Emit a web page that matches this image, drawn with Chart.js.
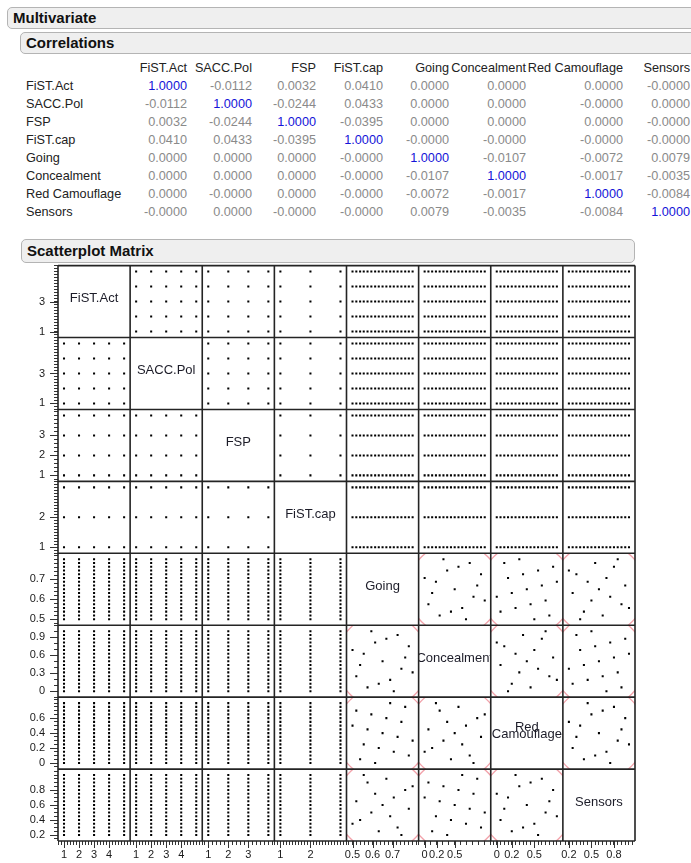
<!DOCTYPE html>
<html><head><meta charset="utf-8">
<script src="https://cdn.jsdelivr.net/npm/chart.js@4.4.1/dist/chart.umd.min.js"></script>
<style>
html,body{margin:0;padding:0;background:#fff;}
body{width:691px;height:863px;overflow:hidden;position:relative;font-family:"Liberation Sans",Arial,sans-serif;}
.bar{position:absolute;background:#efefef;border:1px solid #b4b4b4;border-radius:5px;box-sizing:border-box;font-weight:bold;font-size:15px;color:#111;padding-left:5px;white-space:nowrap;}
.cell{position:absolute;font-size:12.7px;line-height:18px;height:18px;white-space:nowrap;}
#wrap{position:absolute;left:0;top:250px;width:691px;height:613px;}
</style></head><body>
<div class="bar" style="left:7px;top:7px;width:700px;height:22px;line-height:20px;">Multivariate</div>
<div class="bar" style="left:20px;top:32px;width:690px;height:22px;line-height:20px;">Correlations</div>
<div id="tbl"></div>
<div class="bar" style="left:21px;top:239px;width:614px;height:24px;line-height:22px;">Scatterplot Matrix</div>
<div id="wrap"><canvas id="c" width="691" height="613"></canvas></div>
<script>
// ---------------- DATA ----------------
const varNames = ['FiST.Act','SACC.Pol','FSP','FiST.cap','Going','Concealment','Red Camouflage','Sensors'];

const corrRows = [
  ['1.0000','-0.0112','0.0032','0.0410','0.0000','0.0000','0.0000','-0.0000'],
  ['-0.0112','1.0000','-0.0244','0.0433','0.0000','0.0000','-0.0000','0.0000'],
  ['0.0032','-0.0244','1.0000','-0.0395','0.0000','0.0000','0.0000','-0.0000'],
  ['0.0410','0.0433','-0.0395','1.0000','-0.0000','-0.0000','-0.0000','-0.0000'],
  ['0.0000','0.0000','0.0000','-0.0000','1.0000','-0.0107','-0.0072','0.0079'],
  ['0.0000','0.0000','0.0000','-0.0000','-0.0107','1.0000','-0.0017','-0.0035'],
  ['0.0000','-0.0000','0.0000','-0.0000','-0.0072','-0.0017','1.0000','-0.0084'],
  ['-0.0000','0.0000','-0.0000','-0.0000','0.0079','-0.0035','-0.0084','1.0000']
];

// discrete factor levels
const fistActLevels = [1,2,3,4,5];
const saccPolLevels = [1,2,3,4,5];
const fspLevels = [1,2,3,4];
const fistCapLevels = [1,2,3];

// 17-run space-filling design (continuous factors), one entry per run
const going = [0.5,0.519,0.538,0.556,0.575,0.594,0.613,0.631,0.65,0.669,0.688,0.706,0.725,0.744,0.763,0.781,0.8];
const concealment = [0.688,0.25,0.438,0.625,0.063,1.0,0.813,0.125,0.5,0.875,0.188,0,0.938,0.375,0.563,0.75,0.313];
const redCamouflage = [0.5,0.7,0.05,0.25,0.45,0.65,0,0.2,0.4,0.6,0.8,0.15,0.35,0.55,0.75,0.1,0.3];
const sensors = [0.35,0.65,0.4,1.0,0.9,0.5,0.75,0.25,0.6,0.95,0.45,0.7,0.3,0.2,0.8,0.55,0.85];

// tick labels
const yTickLabels = [[1,3],[1,3],[1,2,3],[1,2],[0.5,0.6,0.7],[0,0.3,0.6,0.9],[0,0.2,0.4,0.6],[0.2,0.4,0.6,0.8]];
const xTickLabels = [[1,2,3,4],[1,2,3,4],[1,2,3],[1,2],[0.5,0.6,0.7],[0,0.2,0.5],[0,0.2,0.5],[0.2,0.5,0.8]];
const minorSteps = [0.2,0.2,0.2,0.1,0.02,0.1,0.05,0.05];

// ---------------- TABLE ----------------
const FONT = "'Liberation Sans', Arial, sans-serif";
const colRight = [187,252,316,383,449,526,623,690];
const tbl = document.getElementById('tbl');
function cell(text, y, color, right, left) {
  const d = document.createElement('div');
  d.className = 'cell';
  d.textContent = text;
  d.style.top = (y - 9) + 'px';
  d.style.color = color;
  if (right !== undefined) { d.style.right = (691 - right) + 'px'; d.style.textAlign = 'right'; }
  else d.style.left = left + 'px';
  tbl.appendChild(d);
}
varNames.forEach((n, c) => cell(n, 68, '#222', colRight[c]));
corrRows.forEach((row, r) => {
  cell(varNames[r], 86 + 18 * r, '#222', undefined, 26);
  row.forEach((v, c) => cell(v, 86 + 18 * r, r === c ? '#1414d8' : '#8a8a8a', colRight[c]));
});

// ---------------- SCATTERPLOT MATRIX ----------------
const vars = [
  {vals: fistActLevels, kind: 'd'},
  {vals: saccPolLevels, kind: 'd'},
  {vals: fspLevels, kind: 'd'},
  {vals: fistCapLevels, kind: 'd'},
  {vals: going, kind: 'c'},
  {vals: concealment, kind: 'c'},
  {vals: redCamouflage, kind: 'c'},
  {vals: sensors, kind: 'c'}
];
vars.forEach(v => {
  const mn = Math.min(...v.vals), mx = Math.max(...v.vals);
  v.min = mn - 0.1 * (mx - mn);
  v.max = mx + 0.1 * (mx - mn);
});

function pointsFor(i, j) {
  const X = vars[j], Y = vars[i];
  if (X.kind === 'd' && Y.kind === 'd') return Y.vals.flatMap(b => X.vals.map(a => ({x: a, y: b})));
  if (X.kind === 'c' && Y.kind === 'c') return X.vals.map((a, k) => ({x: a, y: Y.vals[k]}));
  if (X.kind === 'c') return Y.vals.flatMap(b => X.vals.map(a => ({x: a, y: b})));
  return X.vals.flatMap(a => Y.vals.map(b => ({x: a, y: b})));
}

const datasets = [];
for (let i = 0; i < 8; i++) for (let j = 0; j < 8; j++) {
  if (i === j) continue;
  datasets.push({
    data: pointsFor(i, j), xAxisID: 'x' + j, yAxisID: 'y' + i,
    pointStyle: 'rect', pointRadius: 1.45, pointBorderWidth: 0,
    backgroundColor: '#000', borderColor: '#000', showLine: false
  });
}

function near(a, b) { return Math.abs(a - b) < 1e-7; }
function fmt(v) { return String(Math.round(v * 1000) / 1000); }
function makeTicks(k, labels) {
  return function (scale) {
    const st = minorSteps[k];
    const out = [];
    let v = Math.ceil(scale.min / st - 1e-9) * st;
    for (; v <= scale.max + 1e-9; v += st) out.push(Math.round(v * 1e6) / 1e6);
    labels.forEach(l => { if (!out.some(o => near(o, l))) out.push(l); });
    out.sort((a, b) => a - b);
    scale.ticks = out.map(value => ({value}));
  };
}

const scales = {};
for (let k = 0; k < 8; k++) {
  const xl = xTickLabels[k];
  scales['x' + k] = {
    type: 'linear', position: 'bottom', stack: 'sx', stackWeight: 1,
    min: vars[k].min, max: vars[k].max,
    afterBuildTicks: makeTicks(k, xl),
    afterFit: s => { s.height = 22; },
    ticks: {autoSkip: false, maxRotation: 0, minRotation: 0, padding: 3, color: '#1a1a1a',
      font: {size: 11, family: FONT},
      callback: v => xl.some(l => near(l, v)) ? fmt(v) : ''},
    grid: {display: true, drawOnChartArea: false, drawTicks: true, tickLength: 4, tickColor: '#333', tickWidth: 1},
    border: {display: false}
  };
}
// left-positioned stacked boxes are laid out in reverse order, so add them last-to-first
for (let k = 7; k >= 0; k--) {
  const yl = yTickLabels[k];
  scales['y' + k] = {
    type: 'linear', position: 'left', stack: 'sy', stackWeight: 1,
    min: vars[k].min, max: vars[k].max,
    afterBuildTicks: makeTicks(k, yl),
    afterFit: s => { s.width = 58; },
    ticks: {autoSkip: false, padding: 9, color: '#1a1a1a',
      font: {size: 11, family: FONT},
      callback: v => yl.some(l => near(l, v)) ? fmt(v) : ''},
    grid: {display: true, drawOnChartArea: false, drawTicks: true, tickLength: 4, tickColor: '#333', tickWidth: 1},
    border: {display: false}
  };
}

function mean(a) { return a.reduce((s, v) => s + v, 0) / a.length; }
function sd(a) { const m = mean(a); return Math.sqrt(a.reduce((s, v) => s + (v - m) * (v - m), 0) / (a.length - 1)); }

const matrixPlugin = {
  id: 'matrix',
  afterDatasetsDraw(chart) {
    const ctx = chart.ctx;
    const xs = vars.map((_, j) => chart.scales['x' + j]);
    const ys = vars.map((_, i) => chart.scales['y' + i]);
    // density ellipses (continuous pairs)
    for (let i = 4; i < 8; i++) for (let j = 4; j < 8; j++) {
      if (i === j) continue;
      const L = xs[j].left, R = xs[j].right, T = ys[i].top, B = ys[i].bottom;
      ctx.save();
      ctx.beginPath(); ctx.rect(L, T, R - L, B - T); ctx.clip();
      const mx = mean(vars[j].vals), my = mean(vars[i].vals);
      const cx = xs[j].getPixelForValue(mx), cy = ys[i].getPixelForValue(my);
      const rx = Math.abs(xs[j].getPixelForValue(mx + 2.448 * sd(vars[j].vals)) - cx);
      const ry = Math.abs(ys[i].getPixelForValue(my + 2.448 * sd(vars[i].vals)) - cy);
      ctx.beginPath(); ctx.ellipse(cx, cy, rx, ry, 0, 0, Math.PI * 2);
      ctx.strokeStyle = '#f2a2aa'; ctx.lineWidth = 1.3; ctx.stroke();
      ctx.restore();
    }
    // diagonal labels
    ctx.save();
    ctx.font = '13px ' + FONT;
    ctx.fillStyle = '#1c1c28';
    ctx.textAlign = 'center'; ctx.textBaseline = 'middle';
    for (let k = 0; k < 8; k++) {
      const L = xs[k].left, R = xs[k].right, T = ys[k].top, B = ys[k].bottom;
      const cx = (L + R) / 2, cy = (T + B) / 2 - 3;
      ctx.save();
      ctx.beginPath(); ctx.rect(L, T, R - L, B - T); ctx.clip();
      const name = varNames[k];
      if (ctx.measureText(name).width > (R - L) && name.indexOf(' ') > 0) {
        const parts = name.split(' ');
        ctx.fillText(parts[0], cx, cy - 3);
        ctx.fillText(parts.slice(1).join(' '), cx, cy + 4.5);
      } else {
        ctx.fillText(name, cx, cy);
      }
      ctx.restore();
    }
    ctx.restore();
    // major tick extensions
    ctx.save();
    ctx.strokeStyle = '#333'; ctx.lineWidth = 1;
    const ca = chart.chartArea;
    for (let k = 0; k < 8; k++) {
      yTickLabels[k].forEach(v => {
        const p = Math.round(ys[k].getPixelForValue(v)) + 0.5;
        ctx.beginPath(); ctx.moveTo(ca.left - 8, p); ctx.lineTo(ca.left, p); ctx.stroke();
      });
      xTickLabels[k].forEach(v => {
        const p = Math.round(xs[k].getPixelForValue(v)) + 0.5;
        ctx.beginPath(); ctx.moveTo(p, ca.bottom); ctx.lineTo(p, ca.bottom + 7); ctx.stroke();
      });
    }
    ctx.restore();
    // panel frames
    ctx.save();
    ctx.strokeStyle = '#242424'; ctx.lineWidth = 1.6;
    ctx.beginPath();
    for (let k = 0; k <= 8; k++) {
      const x = k < 8 ? xs[k].left : xs[7].right;
      ctx.moveTo(x, ca.top); ctx.lineTo(x, ca.bottom);
      const y = k < 8 ? ys[k].top : ys[7].bottom;
      ctx.moveTo(ca.left, y); ctx.lineTo(ca.right, y);
    }
    ctx.stroke();
    ctx.restore();
  }
};

Chart.defaults.font.family = FONT;
new Chart(document.getElementById('c'), {
  type: 'scatter',
  data: {datasets},
  options: {
    responsive: false, animation: false, devicePixelRatio: 1,
    layout: {padding: {top: 13, right: 56, bottom: 0, left: 0}},
    plugins: {legend: {display: false}, tooltip: {enabled: false}},
    events: [],
    scales
  },
  plugins: [matrixPlugin]
});
</script>
</body></html>
